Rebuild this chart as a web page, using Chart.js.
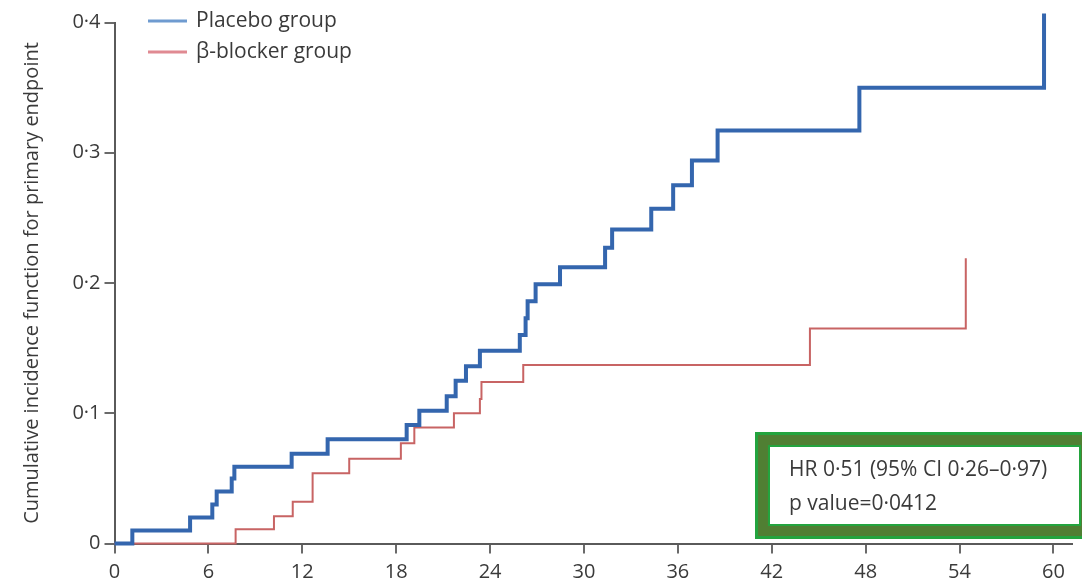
<!DOCTYPE html>
<html lang="en">
<head>
  <meta charset="UTF-8">
  <title>Cumulative incidence</title>
  <style>
    body { margin: 0; background: #fff; }
    #wrap { position: relative; width: 1082px; height: 583px; }
  </style>
</head>
<body>

<div id="wrap">
  <canvas id="cif-chart"></canvas>
</div>

<script src="https://cdn.jsdelivr.net/npm/chart.js"></script>
<script>
  // months since randomisation and cumulative incidence after each event
  const placeboMonths = [0, 1.14, 4.83, 6.25, 6.53, 7.49, 7.66, 11.32, 13.62, 18.67, 19.48, 21.23, 21.8, 22.46, 23.35, 25.9, 26.27, 26.4, 26.91, 28.47, 31.35, 31.8, 34.3, 35.7, 36.9, 38.54, 47.6, 59.4];
  const placeboCIF = [0, 0.010, 0.020, 0.030, 0.040, 0.050, 0.059, 0.069, 0.080, 0.091, 0.102, 0.113, 0.125, 0.136, 0.148, 0.160, 0.173, 0.186, 0.199, 0.212, 0.227, 0.241, 0.257, 0.275, 0.294, 0.317, 0.350, 0.407];

  const betaMonths = [0, 7.74, 10.19, 11.39, 12.66, 15.0, 18.3, 19.16, 21.69, 23.35, 23.45, 26.12, 44.44, 54.4];
  const betaCIF = [0, 0.011, 0.021, 0.032, 0.054, 0.065, 0.077, 0.089, 0.100, 0.111, 0.124, 0.137, 0.165, 0.219];

  const xTicks = [0, 6, 12, 18, 24, 30, 36, 42, 48, 54, 60];
  const yTicks = [0, 0.1, 0.2, 0.3, 0.4];
  const yTickLabels = ['0', '0·1', '0·2', '0·3', '0·4'];

  const seriesNames = ['Placebo group', 'β-blocker group'];
  const statLines = ['HR 0·51 (95% CI 0·26–0·97)', 'p value=0·0412'];

  const FONT = '"Open Sans", "DejaVu Sans", sans-serif';
  const TEXT = '#3a3a3a';

  const toPoints = (xs, ys) => xs.map((x, i) => ({ x: x, y: ys[i] }));

  // legend + HR box drawn on top
  const extras = {
    id: 'extras',
    afterDraw(chart) {
      const ctx = chart.ctx;
      ctx.save();

      // legend
      const legendCols = ['#6f9bd0', '#e08a92'];
      const legendY = [21, 52];
      ctx.lineWidth = 3;
      ctx.font = '21px ' + FONT;
      ctx.textBaseline = 'middle';
      ctx.fillStyle = TEXT;
      seriesNames.forEach((name, i) => {
        ctx.strokeStyle = legendCols[i];
        ctx.beginPath();
        ctx.moveTo(148, legendY[i]);
        ctx.lineTo(187, legendY[i]);
        ctx.stroke();
        ctx.fillText(name, 196, legendY[i]);
      });

      // stats box
      ctx.fillStyle = '#23a43e';
      ctx.fillRect(755, 432, 345, 107);
      ctx.fillStyle = '#507f33';
      ctx.fillRect(758, 435, 339, 101);
      ctx.fillStyle = '#23a43e';
      ctx.fillRect(768, 445, 313, 81);
      ctx.fillStyle = '#fff';
      ctx.fillRect(770, 447, 309, 77);

      ctx.fillStyle = TEXT;
      ctx.font = '21px ' + FONT;
      ctx.textAlign = 'left';
      ctx.fillText(statLines[0], 789, 470);
      ctx.fillText(statLines[1], 789, 504);

      ctx.restore();
    }
  };

  const ctx = document.getElementById('cif-chart').getContext('2d');
  const chart = new Chart(ctx, {
    type: 'line',
    data: {
      datasets: [
        {
          label: seriesNames[0],
          data: toPoints(placeboMonths, placeboCIF),
          borderColor: '#3466ae',
          borderWidth: 4,
          stepped: true,
          pointRadius: 0,
          clip: false,
        },
        {
          label: seriesNames[1],
          data: toPoints(betaMonths, betaCIF),
          borderColor: '#c86464',
          borderWidth: 2,
          stepped: true,
          pointRadius: 0,
          clip: false,
        },
      ],
    },
    options: {
      responsive: true,
      maintainAspectRatio: false,
      animation: false,
      layout: { padding: { top: 22.5, right: 9.8, left: 0, bottom: 0 } },
      plugins: {
        legend: { display: false },
        tooltip: { enabled: false },
      },
      scales: {
        x: {
          type: 'linear',
          min: 0,
          max: 61.2,
          afterBuildTicks: (s) => { s.ticks = xTicks.map(v => ({ value: v })); },
          afterFit: (s) => { s.height = 39.5; },
          grid: { drawOnChartArea: false, drawTicks: true, tickLength: 10, color: '#6a6a6a', lineWidth: 2 },
          border: { display: true, color: '#5a5a5a', width: 2 },
          ticks: {
            padding: 7,
            color: TEXT,
            font: { family: FONT, size: 20 },
            maxRotation: 0,
            callback: (v) => String(v),
          },
        },
        y: {
          type: 'linear',
          min: 0,
          max: 0.4,
          afterBuildTicks: (s) => { s.ticks = yTicks.map(v => ({ value: v })); },
          afterFit: (s) => { s.width = 114.5; },
          grid: { drawOnChartArea: false, drawTicks: true, tickLength: 10, color: '#6a6a6a', lineWidth: 2 },
          border: { display: true, color: '#5a5a5a', width: 2 },
          ticks: {
            padding: 4,
            color: TEXT,
            font: { family: FONT, size: 20 },
            callback: (v, i) => yTickLabels[i],
          },
          title: {
            display: true,
            text: 'Cumulative incidence function for primary endpoint',
            color: TEXT,
            font: { family: FONT, size: 20 },
            padding: { top: 20, bottom: 0 },
          },
        },
      },
    },
    plugins: [extras],
  });
</script>

</body>
</html>
